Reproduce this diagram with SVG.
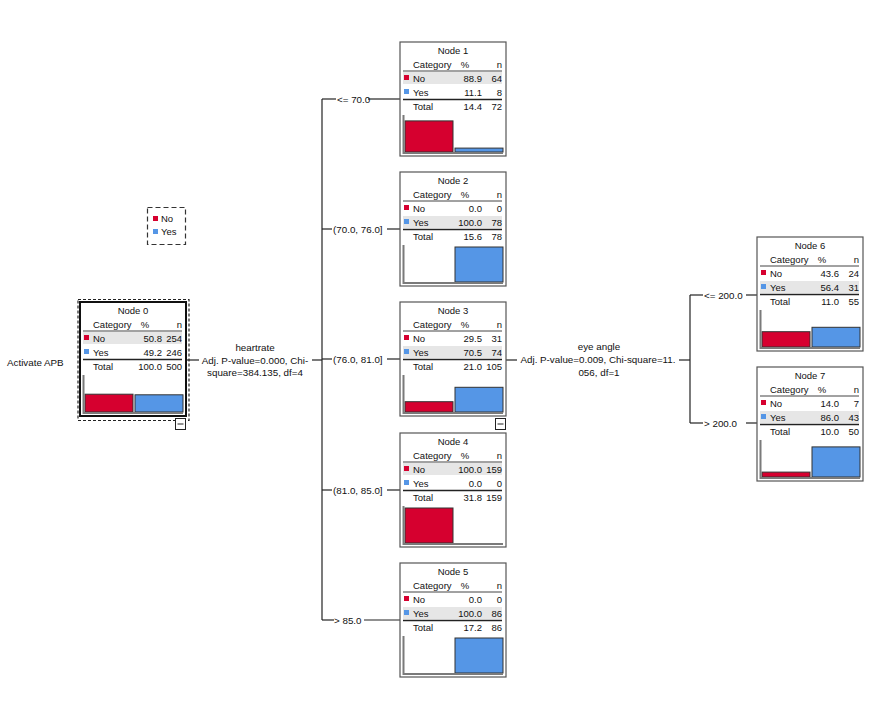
<svg xmlns="http://www.w3.org/2000/svg" width="886" height="702" viewBox="0 0 886 702">
<style>
text{font-family:"Liberation Sans",Arial,sans-serif;fill:#111}
.nt{font-size:9.5px}
.lb{font-size:9.8px}
.box{fill:#fff;stroke:#555;stroke-width:1.2}
.sh{fill:#e6e6e6}
.hl{stroke:#444;stroke-width:1}
.tl{stroke:#222;stroke-width:1.6}
.ax{fill:none;stroke:#7a7a7a;stroke-width:2}
.rd{fill:#d6002f;stroke:#333;stroke-width:1}
.bl{fill:#5596e6;stroke:#333;stroke-width:1}
.sqr{fill:#d6002f}
.sqb{fill:#5596e6}
.c{fill:none;stroke:#222;stroke-width:1.2}
.m{text-anchor:middle}
.e{text-anchor:end}
</style>
<rect width="886" height="702" fill="#fff"/>

<g id="connectors">
<polyline class="c" points="186,360 199,360"/>
<polyline class="c" points="312,360 322,360"/>
<polyline class="c" points="322,99 322,620"/>
<polyline class="c" points="322,99 336,99"/>
<polyline class="c" points="368,99 400,99"/>
<polyline class="c" points="322,229 332,229"/>
<polyline class="c" points="387,229 400,229"/>
<polyline class="c" points="322,359 332,359"/>
<polyline class="c" points="387,359 400,359"/>
<polyline class="c" points="322,490 332,490"/>
<polyline class="c" points="387,490 400,490"/>
<polyline class="c" points="322,620 334,620"/>
<polyline class="c" points="364,620 400,620"/>
<polyline class="c" points="506,360 517,360"/>
<polyline class="c" points="679,360 690,360"/>
<polyline class="c" points="690,295 690,423"/>
<polyline class="c" points="690,295 703,295"/>
<polyline class="c" points="746,295 757,295"/>
<polyline class="c" points="690,423 703,423"/>
<polyline class="c" points="746,423 757,423"/>
<text class="lb m" x="255" y="350.5">heartrate</text>
<text class="lb m" x="255" y="363.5">Adj. P-value=0.000, Chi-</text>
<text class="lb m" x="255" y="375.5">square=384.135, df=4</text>
<text class="lb" x="337" y="102.5">&lt;= 70.0</text>
<text class="lb" x="333" y="232.5">(70.0, 76.0]</text>
<text class="lb" x="333" y="362.5">(76.0, 81.0]</text>
<text class="lb" x="333" y="493.5">(81.0, 85.0]</text>
<text class="lb" x="334" y="623.5">&gt; 85.0</text>
<text class="lb m" x="599" y="349.5">eye angle</text>
<text class="lb m" x="598" y="362.5">Adj. P-value=0.009, Chi-square=11.</text>
<text class="lb m" x="599" y="375.5">056, df=1</text>
<text class="lb" x="704" y="298.5">&lt;= 200.0</text>
<text class="lb" x="704" y="426.5">&gt; 200.0</text>
</g>

<text class="lb" x="7" y="365.5">Activate APB</text>

<g id="legend">
<rect x="147.5" y="207.5" width="38" height="37" fill="#fff" stroke="#333" stroke-width="1.2" stroke-dasharray="5,3"/>
<rect class="sqr" x="153" y="216" width="5" height="5"/>
<text class="nt" x="161" y="222">No</text>
<rect class="sqb" x="153" y="229" width="5" height="5"/>
<text class="nt" x="161" y="235">Yes</text>
</g>

<g id="node0">
<rect x="78" y="299.5" width="111" height="121" fill="none" stroke="#222" stroke-width="1.2" stroke-dasharray="3,2"/>
<g transform="translate(80,302)">
<rect x="0" y="0" width="106" height="114" fill="#fff" stroke="#111" stroke-width="2"/>
<text class="nt m" x="53" y="12">Node 0</text>
<text class="nt" x="13" y="26">Category</text><text class="nt m" x="65" y="26">%</text><text class="nt e" x="102" y="26">n</text>
<line class="hl" x1="3" y1="29" x2="102" y2="29"/>
<rect class="sh" x="3" y="30" width="99" height="12"/>
<rect class="sqr" x="4" y="33" width="5" height="5"/>
<text class="nt" x="13" y="40">No</text><text class="nt e" x="82" y="40">50.8</text><text class="nt e" x="102" y="40">254</text>
<rect class="sqb" x="4" y="47" width="5" height="5"/>
<text class="nt" x="13" y="54">Yes</text><text class="nt e" x="82" y="54">49.2</text><text class="nt e" x="102" y="54">246</text>
<line class="tl" x1="3" y1="57.5" x2="102" y2="57.5"/>
<text class="nt" x="13" y="68">Total</text><text class="nt e" x="82" y="68">100.0</text><text class="nt e" x="102" y="68">500</text>
<rect class="rd" x="5" y="92.2" width="48" height="17.8"/>
<rect class="bl" x="55" y="92.8" width="48" height="17.2"/>
<polyline class="ax" points="3.5,73 3.5,111 103,111"/>
</g>
<rect x="175.5" y="418.5" width="10" height="11" fill="#fff" stroke="#222" stroke-width="1"/>
<line x1="177.5" y1="424" x2="183.5" y2="424" stroke="#222" stroke-width="1"/>
</g>

<g id="node1" transform="translate(400,42)">
<rect class="box" x="0" y="0" width="106" height="114"/>
<text class="nt m" x="53" y="12">Node 1</text>
<text class="nt" x="13" y="26">Category</text><text class="nt m" x="65" y="26">%</text><text class="nt e" x="102" y="26">n</text>
<line class="hl" x1="3" y1="29" x2="102" y2="29"/>
<rect class="sh" x="3" y="30" width="99" height="12"/>
<rect class="sqr" x="4" y="33" width="5" height="5"/>
<text class="nt" x="13" y="40">No</text><text class="nt e" x="82" y="40">88.9</text><text class="nt e" x="102" y="40">64</text>
<rect class="sqb" x="4" y="47" width="5" height="5"/>
<text class="nt" x="13" y="54">Yes</text><text class="nt e" x="82" y="54">11.1</text><text class="nt e" x="102" y="54">8</text>
<line class="tl" x1="3" y1="57.5" x2="102" y2="57.5"/>
<text class="nt" x="13" y="68">Total</text><text class="nt e" x="82" y="68">14.4</text><text class="nt e" x="102" y="68">72</text>
<rect class="rd" x="5" y="78.9" width="48" height="31.1"/>
<rect class="bl" x="55" y="106.1" width="48" height="3.9"/>
<polyline class="ax" points="3.5,73 3.5,111 103,111"/>
</g>

<g id="node2" transform="translate(400,172)">
<rect class="box" x="0" y="0" width="106" height="114"/>
<text class="nt m" x="53" y="12">Node 2</text>
<text class="nt" x="13" y="26">Category</text><text class="nt m" x="65" y="26">%</text><text class="nt e" x="102" y="26">n</text>
<line class="hl" x1="3" y1="29" x2="102" y2="29"/>
<rect class="sh" x="3" y="44" width="99" height="12"/>
<rect class="sqr" x="4" y="33" width="5" height="5"/>
<text class="nt" x="13" y="40">No</text><text class="nt e" x="82" y="40">0.0</text><text class="nt e" x="102" y="40">0</text>
<rect class="sqb" x="4" y="47" width="5" height="5"/>
<text class="nt" x="13" y="54">Yes</text><text class="nt e" x="82" y="54">100.0</text><text class="nt e" x="102" y="54">78</text>
<line class="tl" x1="3" y1="57.5" x2="102" y2="57.5"/>
<text class="nt" x="13" y="68">Total</text><text class="nt e" x="82" y="68">15.6</text><text class="nt e" x="102" y="68">78</text>
<rect class="bl" x="55" y="75" width="48" height="35"/>
<polyline class="ax" points="3.5,73 3.5,111 103,111"/>
</g>

<g id="node3">
<g transform="translate(400,302)">
<rect class="box" x="0" y="0" width="106" height="114"/>
<text class="nt m" x="53" y="12">Node 3</text>
<text class="nt" x="13" y="26">Category</text><text class="nt m" x="65" y="26">%</text><text class="nt e" x="102" y="26">n</text>
<line class="hl" x1="3" y1="29" x2="102" y2="29"/>
<rect class="sh" x="3" y="44" width="99" height="12"/>
<rect class="sqr" x="4" y="33" width="5" height="5"/>
<text class="nt" x="13" y="40">No</text><text class="nt e" x="82" y="40">29.5</text><text class="nt e" x="102" y="40">31</text>
<rect class="sqb" x="4" y="47" width="5" height="5"/>
<text class="nt" x="13" y="54">Yes</text><text class="nt e" x="82" y="54">70.5</text><text class="nt e" x="102" y="54">74</text>
<line class="tl" x1="3" y1="57.5" x2="102" y2="57.5"/>
<text class="nt" x="13" y="68">Total</text><text class="nt e" x="82" y="68">21.0</text><text class="nt e" x="102" y="68">105</text>
<rect class="rd" x="5" y="99.7" width="48" height="10.3"/>
<rect class="bl" x="55" y="85.3" width="48" height="24.7"/>
<polyline class="ax" points="3.5,73 3.5,111 103,111"/>
</g>
<rect x="495.5" y="418.5" width="10" height="11" fill="#fff" stroke="#222" stroke-width="1"/>
<line x1="497.5" y1="424" x2="503.5" y2="424" stroke="#222" stroke-width="1"/>
</g>

<g id="node4" transform="translate(400,433)">
<rect class="box" x="0" y="0" width="106" height="114"/>
<text class="nt m" x="53" y="12">Node 4</text>
<text class="nt" x="13" y="26">Category</text><text class="nt m" x="65" y="26">%</text><text class="nt e" x="102" y="26">n</text>
<line class="hl" x1="3" y1="29" x2="102" y2="29"/>
<rect class="sh" x="3" y="30" width="99" height="12"/>
<rect class="sqr" x="4" y="33" width="5" height="5"/>
<text class="nt" x="13" y="40">No</text><text class="nt e" x="82" y="40">100.0</text><text class="nt e" x="102" y="40">159</text>
<rect class="sqb" x="4" y="47" width="5" height="5"/>
<text class="nt" x="13" y="54">Yes</text><text class="nt e" x="82" y="54">0.0</text><text class="nt e" x="102" y="54">0</text>
<line class="tl" x1="3" y1="57.5" x2="102" y2="57.5"/>
<text class="nt" x="13" y="68">Total</text><text class="nt e" x="82" y="68">31.8</text><text class="nt e" x="102" y="68">159</text>
<rect class="rd" x="5" y="75" width="48" height="35"/>
<polyline class="ax" points="3.5,73 3.5,111 103,111"/>
</g>

<g id="node5" transform="translate(400,563)">
<rect class="box" x="0" y="0" width="106" height="114"/>
<text class="nt m" x="53" y="12">Node 5</text>
<text class="nt" x="13" y="26">Category</text><text class="nt m" x="65" y="26">%</text><text class="nt e" x="102" y="26">n</text>
<line class="hl" x1="3" y1="29" x2="102" y2="29"/>
<rect class="sh" x="3" y="44" width="99" height="12"/>
<rect class="sqr" x="4" y="33" width="5" height="5"/>
<text class="nt" x="13" y="40">No</text><text class="nt e" x="82" y="40">0.0</text><text class="nt e" x="102" y="40">0</text>
<rect class="sqb" x="4" y="47" width="5" height="5"/>
<text class="nt" x="13" y="54">Yes</text><text class="nt e" x="82" y="54">100.0</text><text class="nt e" x="102" y="54">86</text>
<line class="tl" x1="3" y1="57.5" x2="102" y2="57.5"/>
<text class="nt" x="13" y="68">Total</text><text class="nt e" x="82" y="68">17.2</text><text class="nt e" x="102" y="68">86</text>
<rect class="bl" x="55" y="75" width="48" height="35"/>
<polyline class="ax" points="3.5,73 3.5,111 103,111"/>
</g>

<g id="node6" transform="translate(757,237)">
<rect class="box" x="0" y="0" width="106" height="114"/>
<text class="nt m" x="53" y="12">Node 6</text>
<text class="nt" x="13" y="26">Category</text><text class="nt m" x="65" y="26">%</text><text class="nt e" x="102" y="26">n</text>
<line class="hl" x1="3" y1="29" x2="102" y2="29"/>
<rect class="sh" x="3" y="44" width="99" height="12"/>
<rect class="sqr" x="4" y="33" width="5" height="5"/>
<text class="nt" x="13" y="40">No</text><text class="nt e" x="82" y="40">43.6</text><text class="nt e" x="102" y="40">24</text>
<rect class="sqb" x="4" y="47" width="5" height="5"/>
<text class="nt" x="13" y="54">Yes</text><text class="nt e" x="82" y="54">56.4</text><text class="nt e" x="102" y="54">31</text>
<line class="tl" x1="3" y1="57.5" x2="102" y2="57.5"/>
<text class="nt" x="13" y="68">Total</text><text class="nt e" x="82" y="68">11.0</text><text class="nt e" x="102" y="68">55</text>
<rect class="rd" x="5" y="94.7" width="48" height="15.3"/>
<rect class="bl" x="55" y="90.3" width="48" height="19.7"/>
<polyline class="ax" points="3.5,73 3.5,111 103,111"/>
</g>

<g id="node7" transform="translate(757,367)">
<rect class="box" x="0" y="0" width="106" height="114"/>
<text class="nt m" x="53" y="12">Node 7</text>
<text class="nt" x="13" y="26">Category</text><text class="nt m" x="65" y="26">%</text><text class="nt e" x="102" y="26">n</text>
<line class="hl" x1="3" y1="29" x2="102" y2="29"/>
<rect class="sh" x="3" y="44" width="99" height="12"/>
<rect class="sqr" x="4" y="33" width="5" height="5"/>
<text class="nt" x="13" y="40">No</text><text class="nt e" x="82" y="40">14.0</text><text class="nt e" x="102" y="40">7</text>
<rect class="sqb" x="4" y="47" width="5" height="5"/>
<text class="nt" x="13" y="54">Yes</text><text class="nt e" x="82" y="54">86.0</text><text class="nt e" x="102" y="54">43</text>
<line class="tl" x1="3" y1="57.5" x2="102" y2="57.5"/>
<text class="nt" x="13" y="68">Total</text><text class="nt e" x="82" y="68">10.0</text><text class="nt e" x="102" y="68">50</text>
<rect class="rd" x="5" y="105.1" width="48" height="4.9"/>
<rect class="bl" x="55" y="79.9" width="48" height="30.1"/>
<polyline class="ax" points="3.5,73 3.5,111 103,111"/>
</g>
</svg>
